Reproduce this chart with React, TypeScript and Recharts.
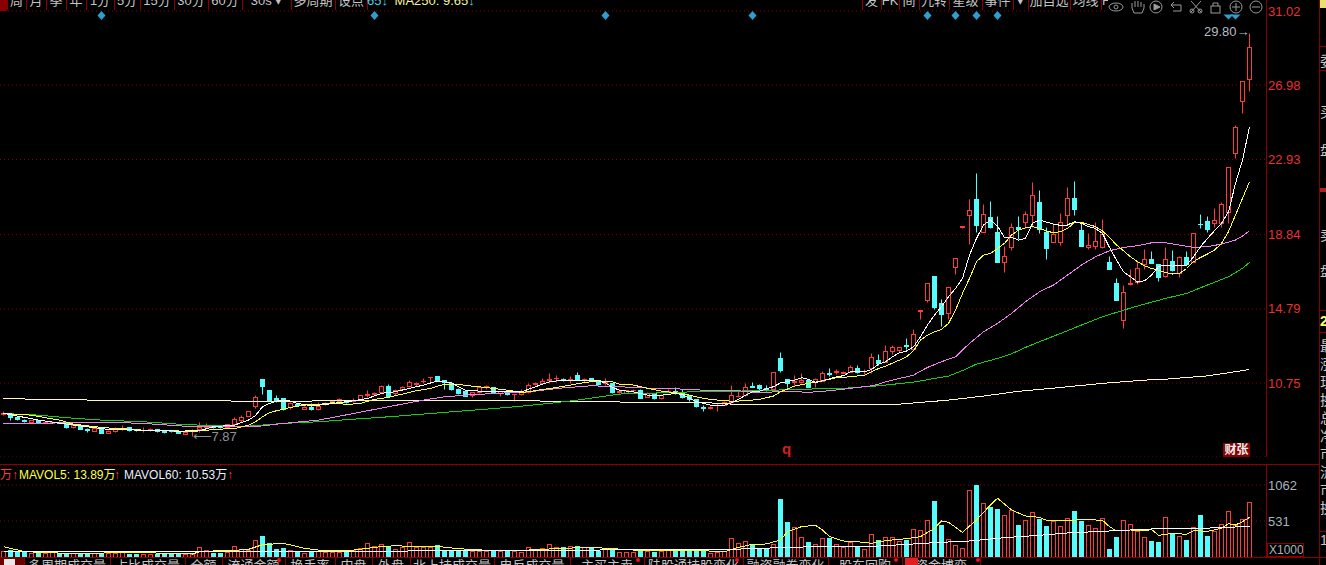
import React from "react";
import {
  ComposedChart,
  Bar,
  Line,
  XAxis,
  YAxis,
  CartesianGrid,
  ReferenceDot,
} from "recharts";

// daily candles, oldest first
const opens = [
  9.09, 9.04, 8.91, 8.73, 8.64, 8.73, 8.58, 8.58, 8.62, 8.55,
  8.37, 8.49, 8.22, 8.15, 8.22, 8.04, 8.11, 8.22, 8.33, 8.2,
  8.18, 8.18, 8.22, 8.15, 8.15, 8.13, 8.0, 8.11, 8.22, 8.33,
  8.4, 8.37, 8.37, 8.51, 8.73, 8.98, 9.51, 10.95, 10.37, 9.91,
  9.91, 9.46, 9.6, 9.35, 9.46, 9.33, 9.64, 9.68, 9.75, 9.82,
  9.77, 9.88, 10.1, 10.15, 10.28, 10.59, 10.19, 10.4, 10.6, 10.71,
  10.84, 11.08, 11.13, 10.91, 10.76, 10.44, 10.31, 10.09, 10.24, 10.58,
  10.51, 10.18, 10.31, 10.13, 10.13, 10.24, 10.71, 10.76, 10.93, 11.0,
  10.96, 10.93, 11.18, 10.93, 11.0, 10.87, 10.73, 10.73, 10.27, 10.22,
  10.36, 10.36, 10.0, 10.18, 9.91, 10.31, 10.33, 10.27, 10.09, 9.87,
  9.42, 9.38, 9.54, 9.58, 9.69, 10.02, 10.09, 10.57, 10.64, 10.46,
  10.44, 12.09, 10.95, 10.82, 10.82, 10.89, 10.82, 10.87, 11.29, 11.36,
  11.32, 11.36, 11.55, 11.41, 11.55, 12.0, 11.91, 12.51, 12.56, 12.8,
  12.58, 14.7, 15.27, 16.56, 15.09, 14.54, 17.09, 19.27, 19.92, 20.77,
  18.98, 19.79, 18.98, 17.36, 18.16, 19.23, 19.54, 19.92, 20.61, 18.98,
  18.45, 18.45, 19.88, 20.83, 19.08, 18.14, 18.21, 18.18, 17.34, 16.2,
  14.21, 16.17, 16.27, 17.21, 17.5, 17.23, 16.6, 17.39, 16.72, 17.61,
  17.36, 19.43, 19.58, 19.45, 19.48, 20.08, 23.28, 26.1, 27.31,
];
const closes = [
  9.13, 8.91, 8.78, 8.69, 8.73, 8.64, 8.64, 8.64, 8.58, 8.37,
  8.49, 8.24, 8.18, 8.29, 8.04, 8.15, 8.24, 8.27, 8.18, 8.18,
  8.2, 8.22, 8.11, 8.09, 8.11, 8.04, 8.07, 8.13, 8.37, 8.4,
  8.33, 8.35, 8.51, 8.77, 8.91, 9.2, 9.97, 10.59, 9.79, 9.82,
  9.31, 9.64, 9.53, 9.46, 9.31, 9.49, 9.66, 9.75, 9.86, 9.69,
  9.82, 10.1, 10.15, 10.22, 10.59, 10.06, 10.37, 10.55, 10.79, 10.73,
  10.86, 11.1, 10.86, 10.82, 10.4, 10.18, 10.07, 10.26, 10.51, 10.6,
  10.22, 10.31, 10.13, 10.14, 10.27, 10.62, 10.73, 10.87, 10.95, 11.02,
  10.94, 10.95, 10.95, 10.95, 10.89, 10.69, 10.82, 10.27, 10.29, 10.36,
  10.38, 9.95, 10.22, 9.95, 10.11, 10.33, 10.29, 10.0, 9.87, 9.51,
  9.4, 9.47, 9.56, 9.69, 10.09, 10.04, 10.55, 10.53, 10.46, 10.36,
  11.33, 11.45, 10.76, 10.87, 10.91, 10.55, 10.95, 11.27, 11.25, 11.38,
  11.33, 11.6, 11.36, 11.43, 12.15, 11.82, 12.47, 12.69, 12.69, 12.78,
  13.4, 14.71, 16.18, 14.89, 14.52, 15.96, 17.54, 19.28, 20.16, 19.36,
  19.94, 19.23, 17.36, 17.65, 19.23, 19.14, 19.94, 20.97, 19.12, 18.12,
  18.85, 19.5, 20.81, 20.23, 18.21, 18.25, 18.47, 18.87, 16.96, 15.29,
  15.69, 16.18, 17.0, 17.49, 17.29, 16.52, 17.49, 16.9, 17.59, 17.23,
  18.9, 19.41, 19.14, 19.61, 20.5, 22.5, 24.7, 27.2, 29.06,
];
const highs = [
  9.24, 9.06, 8.93, 8.8, 8.75, 8.75, 8.66, 8.66, 8.66, 8.58,
  8.51, 8.51, 8.31, 8.31, 8.24, 8.17, 8.33, 8.46, 8.35, 8.27,
  8.35, 8.29, 8.24, 8.17, 8.17, 8.15, 8.09, 8.27, 8.6, 8.58,
  8.42, 8.4, 8.53, 8.91, 9.0, 9.22, 10.1, 10.97, 10.39, 10.1,
  9.93, 9.73, 9.62, 9.48, 9.64, 9.73, 9.73, 9.79, 9.93, 9.84,
  9.93, 10.12, 10.37, 10.24, 10.64, 10.7, 10.42, 10.57, 10.91, 10.82,
  11.0, 11.1, 11.15, 10.91, 10.78, 10.46, 10.33, 10.28, 10.53, 10.67,
  10.56, 10.33, 10.33, 10.14, 10.4, 10.76, 10.82, 11.0, 11.27, 11.18,
  11.05, 11.16, 11.33, 11.05, 11.02, 10.89, 11.05, 10.76, 10.4, 10.38,
  10.44, 10.44, 10.24, 10.2, 10.13, 10.42, 10.56, 10.4, 10.11, 9.89,
  9.55, 9.49, 9.64, 9.78, 10.67, 10.33, 10.73, 10.78, 10.69, 10.64,
  11.35, 12.42, 10.97, 11.18, 11.27, 10.91, 11.05, 11.4, 11.55, 11.51,
  11.4, 11.73, 11.73, 11.53, 12.36, 12.33, 12.82, 12.8, 12.72, 13.18,
  13.72, 14.71, 16.2, 16.58, 15.31, 15.98, 17.56, 19.28, 20.77, 22.17,
  20.5, 20.65, 19.85, 18.21, 19.45, 19.87, 20.14, 21.68, 21.26, 19.23,
  19.45, 20.0, 21.45, 21.76, 19.54, 18.9, 19.5, 19.67, 17.67, 16.47,
  16.07, 16.99, 17.41, 18.05, 17.94, 17.25, 18.14, 17.99, 17.67, 17.94,
  18.92, 19.94, 19.85, 20.27, 20.59, 22.52, 24.8, 27.2, 29.8,
];
const lows = [
  9.0, 8.75, 8.76, 8.62, 8.55, 8.62, 8.56, 8.56, 8.55, 8.29,
  8.29, 8.22, 8.07, 8.13, 8.02, 8.02, 8.09, 8.18, 8.16, 8.11,
  8.07, 8.15, 8.09, 8.04, 8.09, 8.02, 7.98, 7.87, 8.09, 8.3,
  8.31, 8.31, 8.35, 8.46, 8.64, 8.96, 9.37, 10.15, 9.77, 9.73,
  9.29, 9.35, 9.51, 9.33, 9.29, 9.28, 9.57, 9.66, 9.73, 9.67,
  9.73, 9.86, 9.97, 10.13, 10.26, 10.04, 10.1, 10.38, 10.51, 10.6,
  10.73, 10.82, 10.84, 10.45, 10.38, 10.16, 10.05, 10.0, 10.22, 10.4,
  10.2, 10.05, 10.11, 9.77, 10.11, 10.18, 10.62, 10.74, 10.73, 10.82,
  10.85, 10.73, 10.93, 10.8, 10.87, 10.67, 10.64, 10.22, 10.18, 10.2,
  10.27, 9.93, 9.98, 9.86, 9.89, 10.25, 10.13, 9.91, 9.76, 9.46,
  9.24, 9.33, 9.24, 9.53, 9.64, 10.0, 10.07, 10.51, 10.36, 10.31,
  10.4, 11.35, 10.55, 10.62, 10.73, 10.53, 10.55, 10.85, 11.13, 11.24,
  11.27, 11.34, 11.31, 11.24, 11.27, 11.73, 11.89, 12.32, 12.45, 12.63,
  12.56, 14.23, 15.14, 14.81, 13.87, 14.23, 16.69, 19.17, 18.32, 18.96,
  18.96, 19.21, 17.34, 16.81, 18.0, 18.59, 19.18, 19.27, 18.94, 17.52,
  18.43, 18.27, 19.36, 19.9, 18.19, 18.03, 18.03, 18.08, 16.94, 15.27,
  13.76, 16.1, 16.14, 16.96, 17.27, 16.3, 16.54, 16.85, 16.54, 17.21,
  17.34, 19.19, 19.0, 19.27, 19.23, 19.48, 23.0, 25.46, 26.66,
];
// volume in X1000
const volumes = [
  93, 103, 79, 69, 59, 54, 64, 69, 54, 54,
  54, 59, 54, 54, 59, 54, 64, 69, 44, 49,
  49, 49, 39, 39, 39, 39, 44, 44, 143, 98,
  59, 59, 79, 157, 113, 98, 246, 310, 207, 113,
  133, 98, 93, 64, 93, 84, 79, 79, 79, 84,
  98, 128, 202, 167, 187, 167, 113, 143, 216, 148,
  148, 148, 172, 103, 103, 93, 103, 84, 84, 84,
  93, 84, 93, 84, 79, 143, 103, 128, 187, 143,
  143, 162, 162, 143, 128, 93, 128, 113, 74, 74,
  74, 113, 84, 79, 84, 103, 113, 84, 93, 93,
  84, 54, 69, 84, 276, 202, 236, 177, 128, 118,
  187, 856, 517, 438, 290, 221, 192, 276, 276, 187,
  143, 226, 153, 113, 335, 251, 290, 290, 231, 256,
  408, 394, 541, 827, 472, 261, 172, 128, 984, 1063,
  792, 733, 708, 615, 694, 472, 541, 659, 566, 458,
  526, 453, 571, 679, 531, 472, 423, 571, 118, 295,
  541, 482, 389, 290, 236, 221, 585, 354, 305, 251,
  438, 620, 310, 389, 482, 674, 472, 556, 807,
];

// moving averages at [candle, value]
type Knot = [number, number];
const ma5: Knot[] = [
  [0, 9.1], [5, 8.73], [10, 8.46], [15, 8.22], [20, 8.18], [25, 8.13], [28, 8.15], [30, 8.37], [33, 8.46],
  [35, 8.73], [36, 8.98], [37, 9.46], [38, 9.64], [39, 9.77], [40, 9.82], [41, 9.77], [42, 9.64], [44, 9.51],
  [46, 9.58], [48, 9.69], [50, 9.78], [52, 9.91], [54, 10.19], [56, 10.28], [58, 10.46], [60, 10.64], [62, 10.86],
  [64, 10.76], [65, 10.55], [66, 10.36], [68, 10.31], [70, 10.31], [72, 10.27], [74, 10.27], [76, 10.55], [78, 10.82],
  [80, 10.91], [84, 10.91], [85, 10.87], [86, 10.76], [87, 10.51], [88, 10.36], [90, 10.27], [92, 10.09], [94, 10.09],
  [96, 10.18], [97, 10.13], [98, 9.91], [99, 9.73], [100, 9.64], [101, 9.55], [103, 9.55], [104, 9.67], [105, 9.86],
  [106, 10.09], [107, 10.27], [108, 10.31], [110, 10.55], [111, 10.76], [113, 10.91], [114, 11.04], [115, 10.95],
  [116, 10.78], [117, 10.87], [119, 11.09], [120, 11.15], [121, 11.36], [123, 11.36], [124, 11.49], [125, 11.78],
  [126, 11.91], [127, 12.18], [128, 12.4], [129, 12.49], [130, 12.72], [131, 13.27], [132, 13.91], [133, 14.45],
  [134, 14.91], [135, 15.45], [136, 15.9], [137, 16.45], [138, 17.72], [139, 18.63], [140, 19.36], [141, 19.63],
  [142, 19.3], [143, 18.68], [144, 18.68], [145, 18.54], [146, 18.63], [147, 19.45], [148, 19.63], [149, 19.52],
  [150, 19.41], [151, 19.34], [152, 19.36], [153, 19.54], [154, 19.45], [155, 19.27], [156, 19.17], [157, 18.9],
  [158, 18.14], [159, 17.45], [160, 16.81], [161, 16.54], [162, 16.25], [163, 16.32], [164, 16.63], [165, 17.09],
  [166, 17.18], [167, 17.12], [168, 17.16], [169, 17.16], [170, 17.63], [171, 18.18], [172, 18.63], [173, 19.05],
  [174, 19.45], [175, 20.08], [176, 21.63], [177, 22.9], [178, 24.7],
];
const ma10: Knot[] = [
  [0, 9.09], [4, 9.0], [6, 8.86], [8, 8.73], [10, 8.51], [12, 8.42], [14, 8.33], [16, 8.27], [18, 8.24], [20, 8.18],
  [24, 8.15], [27, 8.11], [29, 8.18], [31, 8.24], [33, 8.27], [35, 8.46], [36, 8.64], [37, 8.91], [38, 9.13], [39, 9.24],
  [41, 9.42], [43, 9.55], [45, 9.58], [47, 9.68], [49, 9.58], [51, 9.64], [53, 9.86], [55, 9.97], [57, 10.15], [59, 10.33],
  [61, 10.46], [63, 10.69], [65, 10.67], [67, 10.58], [70, 10.46], [72, 10.36], [74, 10.24], [75, 10.27], [77, 10.4],
  [79, 10.51], [81, 10.64], [83, 10.78], [85, 10.87], [87, 10.82], [88, 10.69], [90, 10.64], [92, 10.46], [94, 10.31],
  [96, 10.22], [98, 10.09], [100, 9.91], [102, 9.82], [104, 9.76], [106, 9.78], [108, 9.86], [110, 10.04], [111, 10.27],
  [113, 10.58], [115, 10.73], [117, 10.87], [119, 11.04], [121, 11.09], [123, 11.18], [125, 11.54], [126, 11.67], [128, 12.0],
  [129, 12.18], [130, 12.51], [131, 13.09], [132, 13.36], [133, 13.54], [134, 13.67], [135, 14.0], [136, 14.72], [137, 15.63],
  [138, 16.45], [139, 17.36], [140, 17.72], [141, 17.81], [142, 18.08], [143, 18.36], [144, 18.81], [145, 19.08], [146, 19.21],
  [147, 19.27], [148, 19.17], [149, 19.03], [150, 18.94], [151, 19.0], [152, 19.17], [153, 19.5], [154, 19.5], [155, 19.39],
  [156, 19.27], [157, 19.03], [158, 18.68], [159, 18.27], [160, 17.96], [161, 17.63], [162, 17.36], [163, 17.14], [164, 16.99],
  [165, 16.9], [166, 16.78], [167, 16.69], [168, 16.72], [169, 16.99], [170, 17.36], [171, 17.59], [172, 17.78], [173, 17.99],
  [174, 18.36], [175, 19.0], [176, 19.9], [177, 20.81], [178, 21.72],
];
const ma30: Knot[] = [
  [0, 8.55], [16, 8.6], [20, 8.55], [27, 8.37], [33, 8.37], [36, 8.37], [40, 8.55], [45, 8.73], [50, 9.09], [55, 9.46],
  [60, 9.82], [63, 10.0], [66, 10.09], [70, 10.18], [75, 10.27], [80, 10.49], [84, 10.6], [88, 10.55], [90, 10.51], [93, 10.46],
  [97, 10.42], [100, 10.36], [105, 10.33], [108, 10.22], [112, 10.31], [115, 10.24], [118, 10.33], [121, 10.46], [124, 10.6],
  [125, 10.69], [126, 10.82], [128, 11.0], [130, 11.18], [132, 11.6], [134, 11.91], [136, 12.18], [138, 12.91], [140, 13.54],
  [142, 14.0], [144, 14.54], [146, 15.18], [148, 15.72], [150, 16.09], [152, 16.63], [154, 17.18], [156, 17.63], [158, 17.96],
  [160, 18.14], [162, 18.23], [164, 18.39], [166, 18.39], [168, 18.27], [170, 18.14], [172, 18.18], [174, 18.32], [176, 18.54],
  [177, 18.76], [178, 19.05],
];
const ma60: Knot[] = [
  [0, 9.09], [5, 9.0], [9, 8.86], [14, 8.73], [20, 8.64], [25, 8.51], [30, 8.42], [35, 8.4], [40, 8.55], [45, 8.64], [50, 8.78],
  [55, 8.91], [60, 9.06], [63, 9.15], [66, 9.24], [70, 9.36], [74, 9.49], [78, 9.64], [82, 9.82], [86, 10.04], [88, 10.15],
  [91, 10.18], [96, 10.24], [100, 10.29], [105, 10.31], [110, 10.36], [115, 10.42], [120, 10.46], [125, 10.6], [130, 10.8],
  [135, 11.13], [137, 11.43], [139, 11.78], [142, 12.09], [144, 12.34], [146, 12.69], [148, 13.0], [151, 13.45], [154, 13.91], [157, 14.36],
  [160, 14.72], [163, 15.05], [166, 15.36], [169, 15.63], [172, 16.09], [175, 16.54], [177, 17.0], [178, 17.32],
];
const ma250: Knot[] = [
  [0, 9.91], [5, 9.86], [13, 9.82], [26, 9.78], [40, 9.76], [62, 9.82], [70, 9.82], [82, 9.73], [100, 9.69], [105, 9.58],
  [122, 9.58], [128, 9.6], [135, 9.82], [140, 10.04], [145, 10.3], [148, 10.4], [151, 10.51], [154, 10.62], [157, 10.73],
  [160, 10.82], [163, 10.91], [166, 10.96], [169, 11.05], [172, 11.14], [175, 11.31], [178, 11.49],
];
const mavol5: Knot[] = [
  [0, 153], [3, 79], [9, 54], [20, 64], [27, 44], [28, 79], [30, 89], [33, 98], [35, 113], [37, 182], [40, 202], [43, 128],
  [46, 89], [50, 103], [54, 153], [56, 167], [58, 157], [62, 162], [63, 143], [65, 123], [70, 93], [75, 103], [80, 128], [84, 143],
  [90, 103], [95, 93], [100, 93], [103, 74], [105, 143], [107, 187], [109, 192], [111, 251], [112, 374], [114, 448], [116, 467],
  [117, 399], [118, 300], [120, 236], [122, 226], [124, 202], [125, 226], [127, 251], [129, 270], [131, 300], [133, 423], [134, 531],
  [135, 512], [137, 364], [139, 546], [141, 768], [142, 866], [144, 694], [146, 605], [148, 585], [149, 541], [152, 531], [154, 556],
  [157, 541], [158, 448], [159, 384], [161, 399], [163, 384], [164, 408], [165, 320], [167, 349], [169, 335], [170, 389], [172, 379],
  [174, 423], [175, 492], [176, 472], [177, 521], [178, 585],
];
const mavol60: Knot[] = [
  [0, 84], [26, 84], [28, 79], [60, 89], [70, 93], [100, 113], [104, 113], [111, 138], [116, 153], [125, 162], [130, 192], [133, 212],
  [138, 236], [143, 285], [148, 320], [152, 354], [156, 374], [159, 389], [166, 423], [171, 423], [174, 433], [178, 453],
];
const eventDiamonds = [14, 53, 86, 107, 132, 136, 139, 142];
const eventFlags = [175, 176];

const priceTicks = [10.75, 14.79, 18.84, 22.93, 26.98, 31.02];
const volumeTicks = [531, 1062];

const topTabs = ["周", "月", "季", "年", "1分", "5分", "15分", "30分", "60分", "30s   ▾", "多周期", "设点"];
const topTabEdges = [7, 26, 46, 66, 86, 114, 140, 174, 208, 242, 291, 335, 367];
const rightTabs = ["发", "FK", "间", "九转", "星级", "事件", "▾", "加自选", "均线"];
const rightTabEdges = [862, 881, 899, 919, 949, 982, 1013, 1028, 1070, 1101];
const bottomTabs = ["多周期成交量", "占比成交量", "全额", "流通金额", "换手率", "内盘", "外盘", "北上持成交量", "电反成交量", "主买主卖", "陆股通持股变化", "融资融券变化", "股东回购", "资金博弈"];
const bottomTabEdges = [24, 110, 185, 222, 285, 335, 372, 410, 494, 570, 644, 743, 828, 902, 980];
const bottomTabDots = [279, 638, 737, 896, 978];
const sideChars: [string, number][] = [["委", 61], ["买", 112], ["盘", 150], ["卖", 235], ["盘", 271], ["最", 346], ["涨", 364], ["现", 382], ["换", 400], ["总", 418], ["净", 436], ["市", 454], ["流", 472], ["市", 490], ["换", 508], ["1", 540]];
const sideRules = [46, 70, 310, 332, 531, 557];

const UP = "#ff3a3a";
const DOWN = "#54fcfc";
const BORDER = "#8a0000";
const NUM_FONT = "'Liberation Sans', Arial, sans-serif";
const CJK_FONT = "'Liberation Sans', 'Noto Sans CJK SC', sans-serif";

const toSeries = (knots: Knot[]) => new Map(knots);

const series = {
  ma5: toSeries(ma5),
  ma10: toSeries(ma10),
  ma30: toSeries(ma30),
  ma60: toSeries(ma60),
  ma250: toSeries(ma250),
  mavol5: toSeries(mavol5),
  mavol60: toSeries(mavol60),
};

// two empty slots after the last candle, like the terminal leaves
const rows = Array.from({ length: 181 }, (_, i) => {
  const row: any = { idx: i };
  if (i < opens.length) {
    row.open = opens[i];
    row.close = closes[i];
    row.high = highs[i];
    row.low = lows[i];
    row.range = [lows[i], highs[i]];
    row.volume = volumes[i];
  }
  for (const [key, map] of Object.entries(series)) {
    if (map.has(i)) row[key] = map.get(i);
  }
  if (eventDiamonds.includes(i)) row.event = 30.77;
  if (eventFlags.includes(i)) row.flag = 30.77;
  return row;
});

const crisp = (v: number) => Math.round(v) + 0.5;

const Candle = (props: any) => {
  const { x, y, width, height, payload } = props;
  if (payload.open === undefined || !Number.isFinite(y)) return null;
  const { open, close, high, low } = payload;
  const per = high > low ? height / (high - low) : 0;
  const py = (v: number) => y + (high - v) * per;
  const cx = Math.floor(x + width / 2) + 0.5;
  const top = crisp(py(Math.max(open, close)));
  const bot = crisp(py(Math.min(open, close)));
  const isUp = close >= open;
  const color = isUp ? UP : DOWN;
  return (
    <g>
      <line x1={cx} x2={cx} y1={crisp(py(high))} y2={top} stroke={color} />
      <line x1={cx} x2={cx} y1={bot} y2={crisp(py(low))} stroke={color} />
      {bot - top < 1 ? (
        <line x1={cx - 2.5} x2={cx + 2.5} y1={top} y2={top} stroke={color} />
      ) : (
        <rect x={cx - 2} y={top} width={4} height={bot - top} fill={isUp ? "#000" : DOWN} stroke={color} />
      )}
    </g>
  );
};

const VolumeBar = (props: any) => {
  const { x, y, width, height, payload } = props;
  if (payload.open === undefined || !Number.isFinite(y)) return null;
  const isUp = payload.close >= payload.open;
  const cx = Math.floor(x + width / 2) + 0.5;
  const top = crisp(y);
  const bot = crisp(y + height);
  return isUp ? (
    <rect x={cx - 2} y={top} width={4} height={bot - top} fill="#000" stroke={UP} />
  ) : (
    <rect x={cx - 2.5} y={top - 0.5} width={5} height={bot - top + 0.5} fill={DOWN} />
  );
};

const Diamond = (props: any) => {
  const { cx, cy, value } = props;
  if (value === undefined || value === null) return <g key={props.key} />;
  return <path key={props.key} d={`M${cx} ${cy - 4.5}L${cx + 4} ${cy}L${cx} ${cy + 4.5}L${cx - 4} ${cy}Z`} fill="#2b9fd0" />;
};

const Flag = (props: any) => {
  const { cx, cy, value } = props;
  if (value === undefined || value === null) return <g key={props.key} />;
  return <path key={props.key} d={`M${cx - 5} ${cy - 1}L${cx + 5} ${cy - 1}L${cx} ${cy + 4}Z`} fill="#2b9fd0" />;
};

// the terminal draws its lines without smoothing
const maLine = (key: string, stroke: string) => (
  <Line
    key={key}
    dataKey={key}
    stroke={stroke}
    strokeWidth={1}
    dot={false}
    activeDot={false}
    connectNulls
    type="linear"
    shapeRendering="crispEdges"
    isAnimationActive={false}
  />
);

const Abs = ({ x, y, w, h, bg, children, style }: any) => (
  <div style={{ position: "absolute", left: x, top: y, width: w, height: h, background: bg, overflow: "hidden", ...style }}>{children}</div>
);

const TabRow = ({ labels, edges, y, h, textTop, color = "#c4c4c4" }: any) => (
  <>
    {edges.map((e: number) => (
      <Abs key={e} x={e} y={y} w={1} h={h} bg={BORDER} />
    ))}
    {labels.map((label: string, i: number) => (
      <Abs key={i + label} x={edges[i]} y={y} w={edges[i + 1] - edges[i]} h={h}>
        <div style={{ position: "absolute", top: textTop, width: "100%", textAlign: "center", whiteSpace: "nowrap", color, font: `13px ${CJK_FONT}`, lineHeight: "16px" }}>{label}</div>
      </Abs>
    ))}
  </>
);

const Icons = () => (
  <svg width={160} height={14} style={{ position: "absolute", left: 1106, top: 0 }} fill="none" stroke="#9a9a9a">
    <ellipse cx={10} cy={7} rx={7} ry={4} />
    <circle cx={10} cy={7} r={2} />
    <path d="M26 8V3M29 7V1M32 7V1M35 7V2M38 8V4M26 8L28 13H36L38 8" />
    <circle cx={50} cy={7} r={6} />
    <path d="M48 4L54 7L48 10Z" fill="#9a9a9a" />
    <path d="M65 5H75V11H67M65 5L68 2M65 5L68 8" />
    <path d="M85 1L95 12M95 1L85 12" />
    <circle cx={86} cy={11} r={2} />
    <circle cx={94} cy={11} r={2} />
    <rect x={105} y={6} width={9} height={7} />
    <path d="M107 6V3H112V6" />
    <circle cx={130} cy={7} r={6} />
    <path d="M126 7H134M130 3V11" />
    <circle cx={150} cy={7} r={6} />
    <path d="M146 7H154" />
  </svg>
);

const VolNote = ({ x, color, children }: any) => (
  <div style={{ position: "absolute", left: x, top: 467, whiteSpace: "nowrap", color, font: `12px ${CJK_FONT}`, lineHeight: "16px" }}>{children}</div>
);

const App = () => (
  <div style={{ position: "fixed", left: 0, top: 0, width: 1326, height: 565, background: "#000", overflow: "hidden" }}>
    <ComposedChart
      width={1326}
      height={457}
      data={rows}
      margin={{ top: 11, right: 0, bottom: 0, left: 0 }}
      style={{ position: "absolute", left: 0, top: 0 }}
    >
      <CartesianGrid vertical={false} stroke={BORDER} strokeDasharray="1 3" />
      <XAxis dataKey="idx" hide />
      <YAxis
        orientation="right"
        width={59}
        domain={[6.72, 31.02]}
        ticks={priceTicks}
        interval={0}
        axisLine={false}
        tickLine={false}
        tickSize={0}
        tickMargin={1}
        tick={{ fill: "#e83030", fontSize: 13, fontFamily: NUM_FONT }}
      />
      {maLine("ma250", "#fff7c0")}
      {maLine("ma60", "#10d010")}
      {maLine("ma30", "#f080f0")}
      <Bar dataKey="range" barSize={5} shape={Candle} isAnimationActive={false} />
      {maLine("ma10", "#ffff20")}
      {maLine("ma5", "#ffffff")}
      <Line dataKey="event" stroke="none" dot={Diamond} activeDot={false} isAnimationActive={false} />
      <Line dataKey="flag" stroke="none" dot={Flag} activeDot={false} isAnimationActive={false} />
      <ReferenceDot
        x={178}
        y={29.8}
        r={0}
        fill="none"
        stroke="none"
        label={{ value: "29.80→", position: "left", offset: 0, dy: -2, fill: "#b4bcc4", fontSize: 13, fontFamily: NUM_FONT }}
      />
      <ReferenceDot
        x={27}
        y={7.87}
        r={0}
        fill="none"
        stroke="none"
        label={{ value: "⟵7.87", position: "right", offset: 0, fill: "#8c9298", fontSize: 13, fontFamily: NUM_FONT }}
      />
    </ComposedChart>

    <ComposedChart
      width={1326}
      height={92}
      data={rows}
      margin={{ top: 0, right: 0, bottom: 0, left: 0 }}
      style={{ position: "absolute", left: 0, top: 465 }}
    >
      <CartesianGrid vertical={false} stroke={BORDER} strokeDasharray="1 3" />
      <XAxis dataKey="idx" hide />
      <YAxis
        orientation="right"
        width={59}
        domain={[0, 1357]}
        ticks={volumeTicks}
        interval={0}
        axisLine={false}
        tickLine={false}
        tickSize={0}
        tickMargin={1}
        tick={{ fill: "#a8b4bc", fontSize: 13, fontFamily: NUM_FONT }}
      />
      <Bar dataKey="volume" barSize={5} shape={VolumeBar} isAnimationActive={false} />
      {maLine("mavol5", "#ffff20")}
      {maLine("mavol60", "#ffffff")}
    </ComposedChart>

    {/* frame */}
    <Abs x={1108} y={9} w={158} h={4} bg="#000" />
    <Abs x={1266} y={0} w={1} h={457} bg={BORDER} />
    <Abs x={1266} y={465} w={1} h={92} bg={BORDER} />
    <Abs x={0} y={464} w={1319} h={1} bg={BORDER} />
    <Abs x={0} y={557} w={1319} h={1} bg={BORDER} />
    <Abs x={1319} y={0} w={1} h={565} bg={BORDER} />

    {/* top toolbar, cut off by the window */}
    <Abs x={0} y={0} w={7} h={11} bg="#8a0000" />
    <TabRow labels={topTabs} edges={topTabEdges} y={0} h={10} textTop={-7} />
    <Abs x={367} y={0} w={130} h={10}>
      <div style={{ position: "absolute", top: -7, whiteSpace: "nowrap", font: `13px ${NUM_FONT}`, lineHeight: "16px", color: "#4fd0e0" }}>
        65↓ <span style={{ color: "#f4f0a0", marginLeft: 3 }}>MA250: 9.65</span>↓
      </div>
    </Abs>
    <TabRow labels={rightTabs} edges={rightTabEdges} y={0} h={10} textTop={-7} />
    <Abs x={1102} y={0} w={6} h={10}>
      <div style={{ position: "absolute", top: -7, color: "#c4c4c4", font: `13px ${NUM_FONT}`, lineHeight: "16px" }}>F</div>
    </Abs>
    <Icons />

    {/* volume pane header */}
    <VolNote x={0} color="#ff3a3a">万↑</VolNote>
    <VolNote x={19} color="#ffff40">MAVOL5: 13.89万</VolNote>
    <VolNote x={114} color="#ff3a3a">↑</VolNote>
    <VolNote x={124} color="#e8f0ff">MAVOL60: 10.53万</VolNote>
    <VolNote x={227} color="#ff3a3a">↑</VolNote>

    <Abs x={782} y={441} w={12} h={18} style={{ color: "#d02020", font: `bold 15px ${NUM_FONT}`, lineHeight: "16px" }}>q</Abs>
    <Abs x={1223} y={443} w={27} h={14} bg={BORDER} style={{ color: "#f0f0f0", font: `bold 12px ${CJK_FONT}`, textAlign: "center", lineHeight: "14px" }}>财张</Abs>

    {/* X1000 box */}
    <Abs x={1267} y={543} w={37} h={14} style={{ border: `1px solid ${BORDER}`, boxSizing: "border-box", color: "#a8b4bc", font: `12px ${NUM_FONT}`, lineHeight: "12px", paddingLeft: 1 }}>X1000</Abs>

    {/* bottom tabs, cut off by the window */}
    <Abs x={0} y={558} w={24} h={7} bg="#6a0000" />
    <Abs x={4} y={559} w={11} h={6} bg="#e8e8e8" />
    <TabRow labels={bottomTabs} edges={bottomTabEdges} y={558} h={7} textTop={0} />
    <Abs x={905} y={558} w={13} h={7} bg="#e02020" />
    {bottomTabDots.map((x) => (
      <Abs key={x} x={x - 2} y={558} w={4} h={4} bg="#f01010" style={{ borderRadius: 2 }} />
    ))}

    {/* side panel slivers */}
    {sideRules.map((y) => (
      <Abs key={y} x={1319} y={y} w={7} h={1} bg={BORDER} />
    ))}
    {sideChars.map(([c, y], i) => (
      <Abs key={i} x={1320} y={y - 8} w={6} h={16} style={{ color: "#c8c8c8", font: `14px ${CJK_FONT}`, lineHeight: "16px" }}>{c}</Abs>
    ))}
    <Abs x={1320} y={188} w={6} h={4} bg="#b02020" />
    <Abs x={1320} y={0} w={6} h={8} bg="#e8e070" />
    <Abs x={1320} y={312} w={6} h={18} style={{ color: "#ffff60", font: `bold 14px ${NUM_FONT}`, lineHeight: "18px" }}>2</Abs>
  </div>
);

export default App;
